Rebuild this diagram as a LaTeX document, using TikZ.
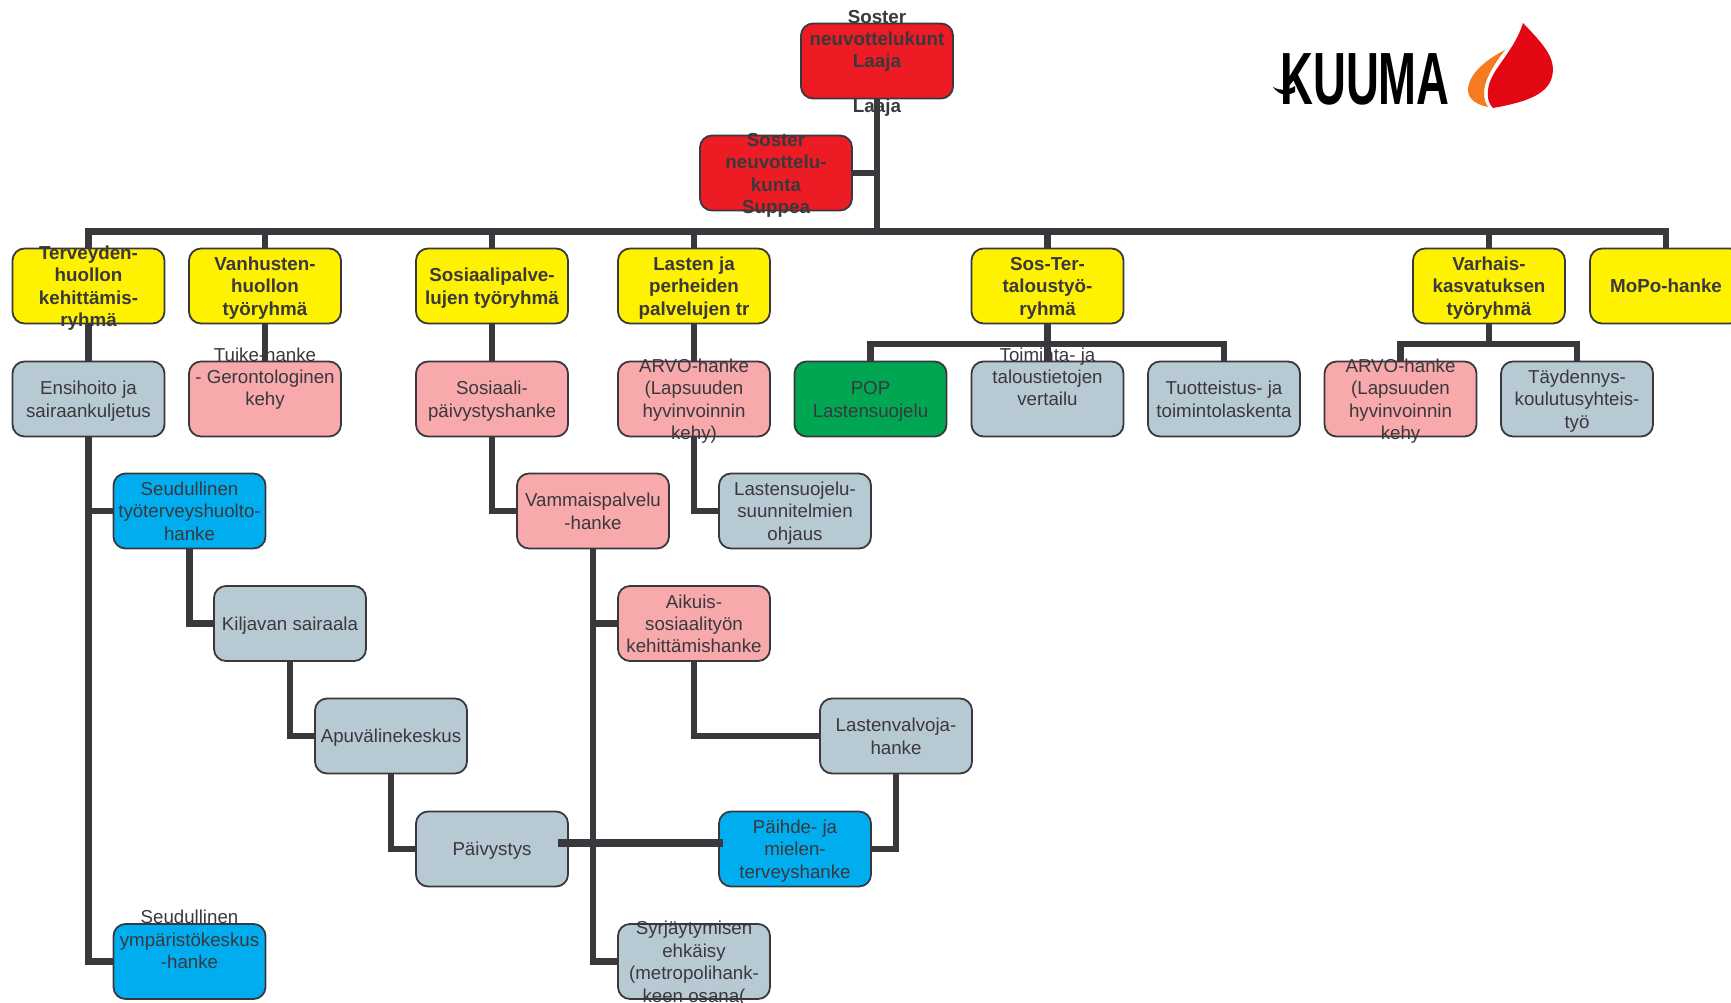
\documentclass[tikz,border=0pt]{standalone}
\usepackage{fontspec}
\setmainfont{Liberation Sans}
\definecolor{ink}{HTML}{3A383D}
\definecolor{cred}{HTML}{ED1C24}
\definecolor{cyel}{HTML}{FFF200}
\definecolor{cste}{HTML}{B7C9D3}
\definecolor{cpin}{HTML}{F7A9AB}
\definecolor{cblu}{HTML}{00AEEF}
\definecolor{cgre}{HTML}{00A651}
\definecolor{lred}{HTML}{E30613}
\definecolor{lora}{HTML}{F47B20}
\newcommand\bxt[1]{\vbox to 0pt{\kern5pt\vss\hbox{\begin{tabular}{@{}c@{}}#1\end{tabular}}\vss}}
\newcommand\bl{\mbox{}\\\mbox{}}
\tikzset{
  box/.style={draw=ink,line width=1.8pt,rounded corners=12pt,minimum width=152pt,minimum height=75pt,inner sep=0pt,text=ink,font=\fontsize{18.7}{22.4}\selectfont},
  hd/.style={box,font=\fontsize{18.8}{22.4}\selectfont\bfseries},
  link/.style={draw=ink,line width=6.5pt,line join=miter,line cap=butt},
  thicklink/.style={draw=ink,line width=8pt,line cap=butt}
}
\begin{document}
\begin{tikzpicture}[x=1pt,y=-1pt]
\useasboundingbox (0,0) rectangle (1731,1003);
\fill[white] (0,0) rectangle (1731,1003);
% head
\node[hd,fill=cred] (top) at (877,61) {\bxt{Soster\\neuvottelukunt\\Laaja\\\mbox{}\\Laaja}};
\node[hd,fill=cred] (sup) at (776,173) {\bxt{Soster\\neuvottelu-\\kunta\\Suppea}};
% yellow row
\node[hd,fill=cyel] (terv) at (88.5,286) {\bxt{Terveyden-\\huollon\\kehittämis-\\ryhmä}};
\node[hd,fill=cyel] (vanh) at (265,286) {\bxt{Vanhusten-\\huollon\\työryhmä}};
\node[hd,fill=cyel] (sosi) at (492,286) {\bxt{Sosiaalipalve-\\lujen työryhmä}};
\node[hd,fill=cyel] (last) at (694,286) {\bxt{Lasten ja\\perheiden\\palvelujen tr}};
\node[hd,fill=cyel] (ster) at (1047.5,286) {\bxt{Sos-Ter-\\taloustyö-\\ryhmä}};
\node[hd,fill=cyel] (varh) at (1489,286) {\bxt{Varhais-\\kasvatuksen\\työryhmä}};
\node[hd,fill=cyel] (mopo) at (1666,286) {\bxt{MoPo-hanke}};
% second row
\node[box,fill=cste] (ensi) at (88.5,399) {\bxt{Ensihoito ja\\sairaankuljetus}};
\node[box,fill=cpin] (tuik) at (265,399) {\bxt{Tuike-hanke\\- Gerontologinen\\kehy\\\bl}};
\node[box,fill=cpin] (spai) at (492,399) {\bxt{Sosiaali-\\päivystyshanke}};
\node[box,fill=cpin] (arvoa) at (694,399) {\bxt{ARVO-hanke\\(Lapsuuden\\hyvinvoinnin\\kehy)}};
\node[box,fill=cgre] (pop) at (870.5,399) {\bxt{POP\\Lastensuojelu}};
\node[box,fill=cste] (toim) at (1047.5,399) {\bxt{Toiminta- ja\\taloustietojen\\vertailu\\\bl}};
\node[box,fill=cste] (tuot) at (1224,399) {\bxt{Tuotteistus- ja\\toimintolaskenta}};
\node[box,fill=cpin] (arvob) at (1400.5,399) {\bxt{ARVO-hanke\\(Lapsuuden\\hyvinvoinnin\\kehy}};
\node[box,fill=cste] (tayd) at (1577,399) {\bxt{Täydennys-\\koulutusyhteis-\\työ}};
% tree
\node[box,fill=cblu] (tyot) at (189.5,511) {\bxt{Seudullinen\\työterveyshuolto-\\hanke}};
\node[box,fill=cpin] (vamm) at (593,511) {\bxt{Vammaispalvelu\\-hanke}};
\node[box,fill=cste] (lsuo) at (795,511) {\bxt{Lastensuojelu-\\suunnitelmien\\ohjaus}};
\node[box,fill=cste] (kilj) at (290,623.5) {\bxt{Kiljavan sairaala}};
\node[box,fill=cpin] (aiku) at (694,623.5) {\bxt{Aikuis-\\sosiaalityön\\kehittämishanke}};
\node[box,fill=cste] (apuv) at (391,736) {\bxt{Apuvälinekeskus}};
\node[box,fill=cste] (lval) at (896,736) {\bxt{Lastenvalvoja-\\hanke}};
\node[box,fill=cste] (paiv) at (492,849) {\bxt{Päivystys}};
\node[box,fill=cblu] (paih) at (795,849) {\bxt{Päihde- ja\\mielen-\\terveyshanke}};
\node[box,fill=cste] (syrj) at (694,961.5) {\bxt{Syrjäytymisen\\ehkäisy\\(metropolihank-\\keen osana(}};
\node[box,fill=cblu] (ympa) at (189.5,961.5) {\bxt{Seudullinen\\ympäristökeskus\\-hanke\\\bl}};
% connector junctions
\coordinate (bus) at (877,231.5);
\coordinate (busa) at (1047.5,344);
\coordinate (busb) at (1489,344);
% connectors
\draw[link] (top.south) -- (bus);
\draw[link] (sup.east) -- (sup.east -| top.south);
\draw[link] (terv.north) |- (bus);
\draw[link] (vanh.north) |- (bus);
\draw[link] (sosi.north) |- (bus);
\draw[link] (last.north) |- (bus);
\draw[link] (ster.north) |- (bus);
\draw[link] (varh.north) |- (bus);
\draw[link] (mopo.north) |- (bus);
\draw[link] (terv.south) -- (ensi.north);
\draw[link] (vanh.south) -- (tuik.north);
\draw[link] (sosi.south) -- (spai.north);
\draw[link] (last.south) -- (arvoa.north);
\draw[link] (ster.south) -- (toim.north);
\draw[link] (pop.north) |- (busa);
\draw[link] (tuot.north) |- (busa);
\draw[link] (varh.south) -- (busb);
\draw[link] (arvob.north) |- (busb);
\draw[link] (tayd.north) |- (busb);
\draw[link] (ensi.south) |- (tyot.west);
\draw[link] (ensi.south) |- (ympa.west);
\draw[link] (tyot.south) |- (kilj.west);
\draw[link] (kilj.south) |- (apuv.west);
\draw[link] (apuv.south) |- (paiv.west);
\draw[link] (spai.south) |- (vamm.west);
\draw[link] (vamm.south) |- (aiku.west);
\draw[link] (vamm.south) |- (syrj.west);
\draw[link] (aiku.south) |- (lval.west);
\draw[link] (arvoa.south) |- (lsuo.west);
\draw[link] (lval.south) |- (paih.east);
\draw[thicklink] ([xshift=-11pt,yshift=6pt]paiv.east) -- ([xshift=5pt,yshift=6pt]paih.west);
% logo
\node[inner sep=0pt,anchor=center,text=black,xscale=0.615,font=\fontsize{74}{74}\selectfont\bfseries] (kuuma) at (1365,79) {KUUMA};
\fill[black] (1273,87) .. controls (1280,91) and (1287,91) .. (1295,86) -- (1295,92) .. controls (1287,96) and (1280,96) .. (1273,87) -- cycle;
\fill[lred] (1523,23) .. controls (1545,46) and (1558,60) .. (1551,80) .. controls (1544,98) and (1515,104) .. (1493,108) .. controls (1485,100) and (1486,85) .. (1496,70) .. controls (1506,55) and (1517,42) .. (1523,23) -- cycle;
\fill[lora] (1505,50) .. controls (1485,60) and (1468,75) .. (1468,90) .. controls (1468,100) and (1478,105) .. (1488,107) .. controls (1480,95) and (1483,78) .. (1505,50) -- cycle;
\end{tikzpicture}
\end{document}
